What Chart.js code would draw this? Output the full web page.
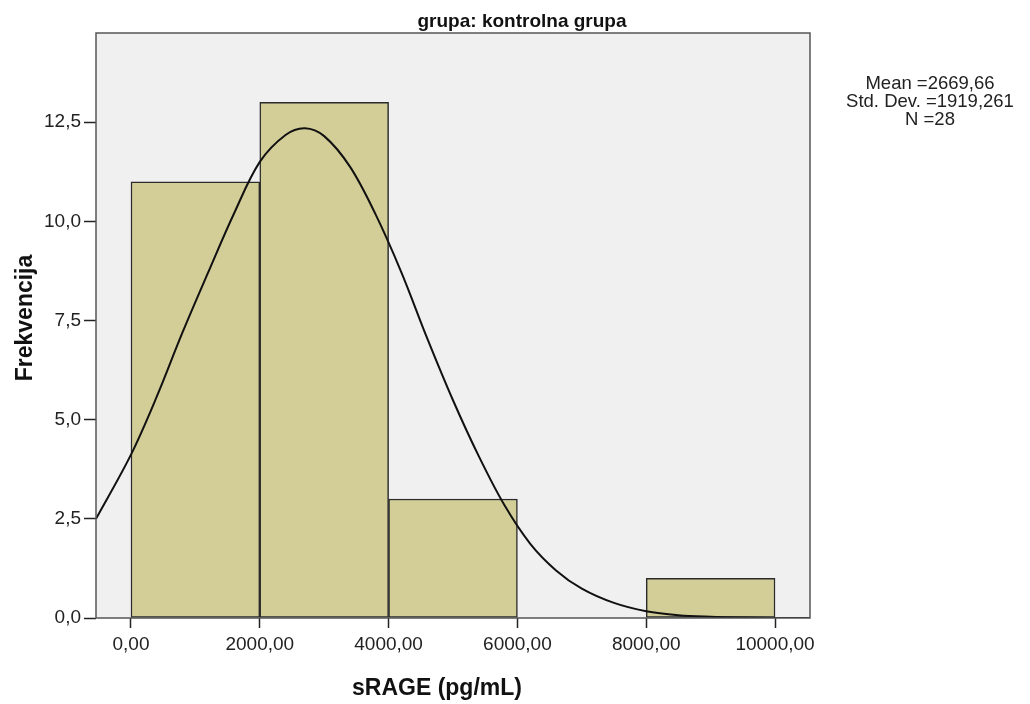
<!DOCTYPE html>
<html>
<head>
<meta charset="utf-8">
<script src="https://cdn.jsdelivr.net/npm/chart.js@4.4.1/dist/chart.umd.min.js"></script>
<style>
  html, body { margin: 0; padding: 0; background: #fff; }
  canvas { display: block; }
</style>
</head>
<body>
<canvas id="histogram" width="1030" height="704"></canvas>
<script>
// Histogram bins (centre of each 2000 wide bin) and counts
const binCenters = [1000, 3000, 5000, 7000, 9000];
const binCounts = [11, 13, 3, 0, 1];

// Normal curve
const curveX = [-543, 0, 400, 800, 1200, 1600, 2000, 2400, 2700, 3000, 3400, 3800, 4200,
  4600, 5000, 5400, 5800, 6200, 6600, 7000, 7500, 8000, 8500, 9000, 9500, 10000, 10543];
const curveY = [2.50, 4.12, 5.58, 7.20, 8.72, 10.20, 11.50, 12.18, 12.35, 12.15, 11.38, 10.17, 8.71,
  7.05, 5.49, 4.08, 2.84, 1.87, 1.20, 0.74, 0.38, 0.17, 0.07, 0.03, 0.01, 0.0, 0.0];

// Axis ticks
const xTicks = [0, 2000, 4000, 6000, 8000, 10000];
const yTicks = [0, 2.5, 5, 7.5, 10, 12.5];

const chartTitle = 'grupa: kontrolna grupa';
const xTitle = 'sRAGE (pg/mL)';
const yTitle = 'Frekvencija';
const statLines = ['Mean =2669,66', 'Std. Dev. =1919,261', 'N =28'];

const FONT = '"Liberation Sans", Arial, sans-serif';

// background, frame and free text
const spssLook = {
  id: 'spssLook',
  beforeDatasetsDraw(chart) {
    const { ctx, chartArea: a } = chart;
    ctx.save();
    ctx.fillStyle = '#f0f0f0';
    ctx.fillRect(a.left, a.top, a.right - a.left, a.bottom - a.top);
    ctx.restore();
  },
  afterDatasetsDraw(chart) {
    const { ctx, chartArea: a } = chart;
    ctx.save();
    ctx.strokeStyle = '#555';
    ctx.lineWidth = 1.5;
    ctx.strokeRect(a.left, a.top, a.right - a.left, a.bottom - a.top);
    ctx.restore();
  },
  afterDraw(chart) {
    const ctx = chart.ctx;
    ctx.save();
    ctx.fillStyle = '#111';
    ctx.textAlign = 'center';
    ctx.textBaseline = 'alphabetic';

    ctx.font = 'bold 19px ' + FONT;
    ctx.fillText(chartTitle, 522, 27);

    ctx.font = 'bold 23px ' + FONT;
    ctx.fillText(xTitle, 437, 695);

    ctx.save();
    ctx.translate(32, 318);
    ctx.rotate(-Math.PI / 2);
    ctx.fillText(yTitle, 0, 0);
    ctx.restore();

    ctx.fillStyle = '#222';
    ctx.font = '18.5px ' + FONT;
    statLines.forEach((s, i) => ctx.fillText(s, 930, 89 + i * 18));
    ctx.restore();
  }
};

const ctx = document.getElementById('histogram').getContext('2d');

const chart = new Chart(ctx, {
  data: {
    datasets: [
      {
        type: 'line',
        label: 'Normal',
        data: curveX.map((x, i) => ({ x: x, y: curveY[i] })),
        borderColor: '#111',
        borderWidth: 2,
        pointRadius: 0,
        tension: 0.35,
        fill: false,
        order: 0
      },
      {
        type: 'bar',
        label: 'Frekvencija',
        data: binCenters.map((x, i) => ({ x: x, y: binCounts[i] || null })),
        backgroundColor: 'rgb(211, 206, 152)',
        borderColor: '#2b2b2b',
        borderWidth: 1.5,
        borderSkipped: false,
        barPercentage: 1,
        categoryPercentage: 1,
        order: 1
      }
    ]
  },
  options: {
    responsive: false,
    animation: false,
    devicePixelRatio: 1,
    layout: { padding: { top: 33, right: 220, bottom: 0, left: 0 } },
    scales: {
      x: {
        type: 'linear',
        min: -543,
        max: 10543,
        offset: false,
        afterBuildTicks: (scale) => { scale.ticks = xTicks.map(v => ({ value: v })); },
        afterFit: (scale) => { scale.height = 86; },
        border: { display: false },
        grid: { offset: false, drawOnChartArea: false, tickLength: 10, tickColor: '#222', tickWidth: 1.5 },
        ticks: {
          padding: 5,
          color: '#222',
          font: { family: FONT, size: 19 },
          maxRotation: 0,
          callback: (v) => v.toFixed(2).replace('.', ',')
        }
      },
      y: {
        min: 0,
        max: 14.75,
        afterBuildTicks: (scale) => { scale.ticks = yTicks.map(v => ({ value: v })); },
        afterFit: (scale) => { scale.width = 96; },
        border: { display: false },
        grid: { drawOnChartArea: false, tickLength: 12, tickColor: '#222', tickWidth: 1.5 },
        ticks: {
          padding: 3,
          color: '#222',
          font: { family: FONT, size: 19 },
          callback: (v) => v.toFixed(1).replace('.', ',')
        }
      }
    },
    plugins: {
      legend: { display: false },
      tooltip: { enabled: false }
    }
  },
  plugins: [spssLook]
});
</script>
</body>
</html>
